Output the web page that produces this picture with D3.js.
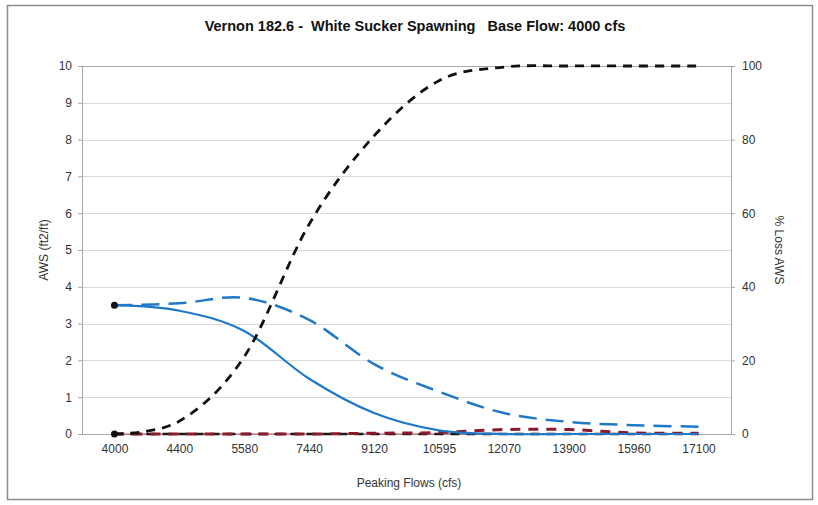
<!DOCTYPE html>
<html><head><meta charset="utf-8">
<script src="https://cdn.jsdelivr.net/npm/d3@7"></script>
<style>body{margin:0;background:#fff}svg{display:block}text{font-family:"Liberation Sans",Arial,sans-serif}</style>
</head><body><svg id="c" width="818" height="505"></svg>
<script>
const categories = ["4000","4400","5580","7440","9120","10595","12070","13900","15960","17100"];
const awsPeak = [3.5,3.35,2.8,1.5,0.57,0.1,0,0,0,0];          // solid blue (left axis)
const awsBase = [3.5,3.55,3.7,3.1,1.9,1.15,0.57,0.33,0.24,0.2]; // dashed blue (left axis)
const pctLoss = [0,3.5,21,57,81,96,99.7,100,100,100];          // black dashed (right axis)
const pctLoss2 = [0,0,0,0,0,0,0,0,0,0];                         // black dashed at zero (right axis)
const redSeries = [0,0,0,0,0.02,0.04,0.12,0.12,0.03,0.02];     // dark red dashed (left axis)
const leftTicks = [0,1,2,3,4,5,6,7,8,9,10];
const rightTicks = [0,20,40,60,80,100];

const svg = d3.select("#c");
const m = {l:82, r:731, t:66, b:434};
svg.append("rect").attr("x",7.5).attr("y",5.5).attr("width",805).attr("height",494)
  .attr("fill","none").attr("stroke","#8c8c8c").attr("stroke-width",1.5);

const x = d3.scalePoint().domain(categories).range([m.l, m.r]).padding(0.5);
const yL = d3.scaleLinear().domain([0,10]).range([m.b, m.t]);
const yR = d3.scaleLinear().domain([0,100]).range([m.b, m.t]);

svg.append("g").selectAll("line").data(leftTicks).join("line")
  .attr("x1",m.l).attr("x2",m.r).attr("y1",d=>Math.round(yL(d))+0.5).attr("y2",d=>Math.round(yL(d))+0.5)
  .attr("stroke",d=>d===10?"#a6a6a6":"#d9d9d9").attr("stroke-width",1);

const gL = svg.append("g").attr("transform",`translate(${m.l},0)`)
  .call(d3.axisLeft(yL).tickValues(leftTicks).tickSize(4).tickPadding(6));
const gR = svg.append("g").attr("transform",`translate(${m.r},0)`)
  .call(d3.axisRight(yR).tickValues(rightTicks).tickSize(4).tickPadding(7));
const gX = svg.append("g").attr("transform",`translate(0,${m.b})`)
  .call(d3.axisBottom(x).tickSize(0).tickPadding(10));
[gL,gR,gX].forEach(g=>{
  g.selectAll("path").attr("stroke","#a6a6a6");
  g.selectAll("line").attr("stroke","#a6a6a6");
  g.selectAll("text").attr("fill","#333").style("font-size","12px").style("font-family","'Liberation Sans',Arial,sans-serif");
});

const curve = d3.curveCatmullRom.alpha(0);
const lineL = d3.line().x((d,i)=>x(categories[i])).y(d=>yL(d)).curve(curve);
const lineR = d3.line().x((d,i)=>x(categories[i])).y(d=>yR(d)).curve(curve);

svg.append("path").attr("d",lineL(awsPeak.map(()=>0))).attr("fill","none").attr("stroke","#d9537a").attr("stroke-width",1.2);
svg.append("path").attr("d",lineR(pctLoss2)).attr("fill","none").attr("stroke","#1a1a1a").attr("stroke-width",2.5).attr("stroke-dasharray","9,7");
svg.append("path").attr("d",lineL(redSeries)).attr("fill","none").attr("stroke","#8b1a2b").attr("stroke-width",3).attr("stroke-dasharray","10,8");
svg.append("path").attr("d",lineL(awsBase)).attr("fill","none").attr("stroke","#1f78c8").attr("stroke-width",2.5).attr("stroke-dasharray","18,9");
svg.append("path").attr("d",lineL(awsPeak)).attr("fill","none").attr("stroke","#1f78c8").attr("stroke-width",2.2);
svg.append("path").attr("d",lineR(pctLoss)).attr("fill","none").attr("stroke","#111").attr("stroke-width",2.8).attr("stroke-dasharray","9,7");

svg.append("circle").attr("cx",x(categories[0])).attr("cy",yL(awsPeak[0])).attr("r",3.5).attr("fill","#111");
svg.append("circle").attr("cx",x(categories[0])).attr("cy",yR(pctLoss[0])).attr("r",3.5).attr("fill","#111");

svg.append("text").attr("x",415).attr("y",31).attr("text-anchor","middle")
  .style("font-size","14.5px").style("font-weight","bold").attr("fill","#111").style("white-space","pre")
  .text("Vernon 182.6 -  White Sucker Spawning   Base Flow: 4000 cfs");
svg.append("text").attr("transform","translate(48,250) rotate(-90)").attr("text-anchor","middle")
  .style("font-size","12px").attr("fill","#333").text("AWS (ft2/ft)");
svg.append("text").attr("transform","translate(775,250) rotate(90)").attr("text-anchor","middle")
  .style("font-size","12px").attr("fill","#333").text("% Loss AWS");
svg.append("text").attr("x",409).attr("y",487).attr("text-anchor","middle")
  .style("font-size","12px").attr("fill","#333").text("Peaking Flows (cfs)");
</script></body></html>
